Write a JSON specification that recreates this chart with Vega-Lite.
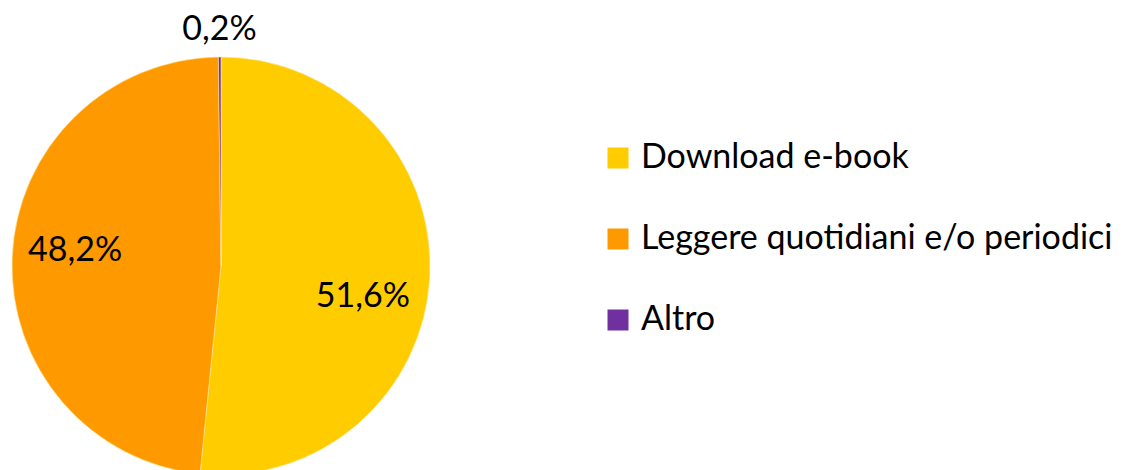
{
  "$schema": "https://vega.github.io/schema/vega-lite/v6.json",
  "autosize": "none",
  "width": 442,
  "height": 470,
  "padding": {"left": 0, "top": 31, "right": 682, "bottom": 0},
  "background": "white",
  "config": {"view": {"stroke": null}, "font": "Lato"},
  "data": {
    "values": [
      {"categoria": "Download e-book", "pct": 51.6, "ordine": 1, "etichetta": "51,6%"},
      {"categoria": "Leggere quotidiani e/o periodici", "pct": 48.2, "ordine": 2, "etichetta": "48,2%"},
      {"categoria": "Altro", "pct": 0.2, "ordine": 3, "etichetta": "0,2%"}
    ]
  },
  "transform": [
    {"stack": "pct", "groupby": [], "sort": [{"field": "ordine"}], "as": ["s0", "s1"]},
    {"calculate": "(datum.s0 + datum.s1) / 2", "as": "mid"}
  ],
  "layer": [
    {
      "mark": {"type": "arc", "outerRadius": 209, "stroke": "#ffe9a0", "strokeWidth": 0.6},
      "encoding": {
        "theta": {"field": "s0", "type": "quantitative", "scale": {"domain": [0, 100]}},
        "theta2": {"field": "s1"},
        "color": {
          "field": "categoria",
          "type": "nominal",
          "sort": ["Download e-book", "Leggere quotidiani e/o periodici", "Altro"],
          "scale": {
            "domain": ["Download e-book", "Leggere quotidiani e/o periodici", "Altro"],
            "range": ["#FFCC00", "#FF9900", "#7030A0"]
          },
          "legend": {
            "title": null,
            "orient": "none",
            "legendX": 601,
            "legendY": 110,
            "symbolType": "square",
            "symbolSize": 441,
            "symbolStrokeWidth": 0,
            "labelFontSize": 34,
            "labelFont": "Lato",
            "labelColor": "#000000",
            "labelOffset": 6,
            "rowPadding": 47,
            "labelLimit": 700
          }
        }
      }
    },
    {
      "transform": [{"filter": "datum.ordine == 1"}],
      "mark": {"type": "text", "radius": 142, "dy": 24, "fontSize": 34, "font": "Lato", "color": "#000000"},
      "encoding": {
        "theta": {"field": "mid", "type": "quantitative", "scale": {"domain": [0, 100]}},
        "text": {"field": "etichetta"}
      }
    },
    {
      "transform": [{"filter": "datum.ordine == 2"}],
      "mark": {"type": "text", "radius": 146, "dy": -9, "fontSize": 34, "font": "Lato", "color": "#000000"},
      "encoding": {
        "theta": {"field": "mid", "type": "quantitative", "scale": {"domain": [0, 100]}},
        "text": {"field": "etichetta"}
      }
    },
    {
      "transform": [{"filter": "datum.ordine == 3"}],
      "mark": {"type": "text", "radius": 236, "fontSize": 34, "font": "Lato", "color": "#000000"},
      "encoding": {
        "theta": {"field": "mid", "type": "quantitative", "scale": {"domain": [0, 100]}},
        "text": {"field": "etichetta"}
      }
    }
  ]
}
